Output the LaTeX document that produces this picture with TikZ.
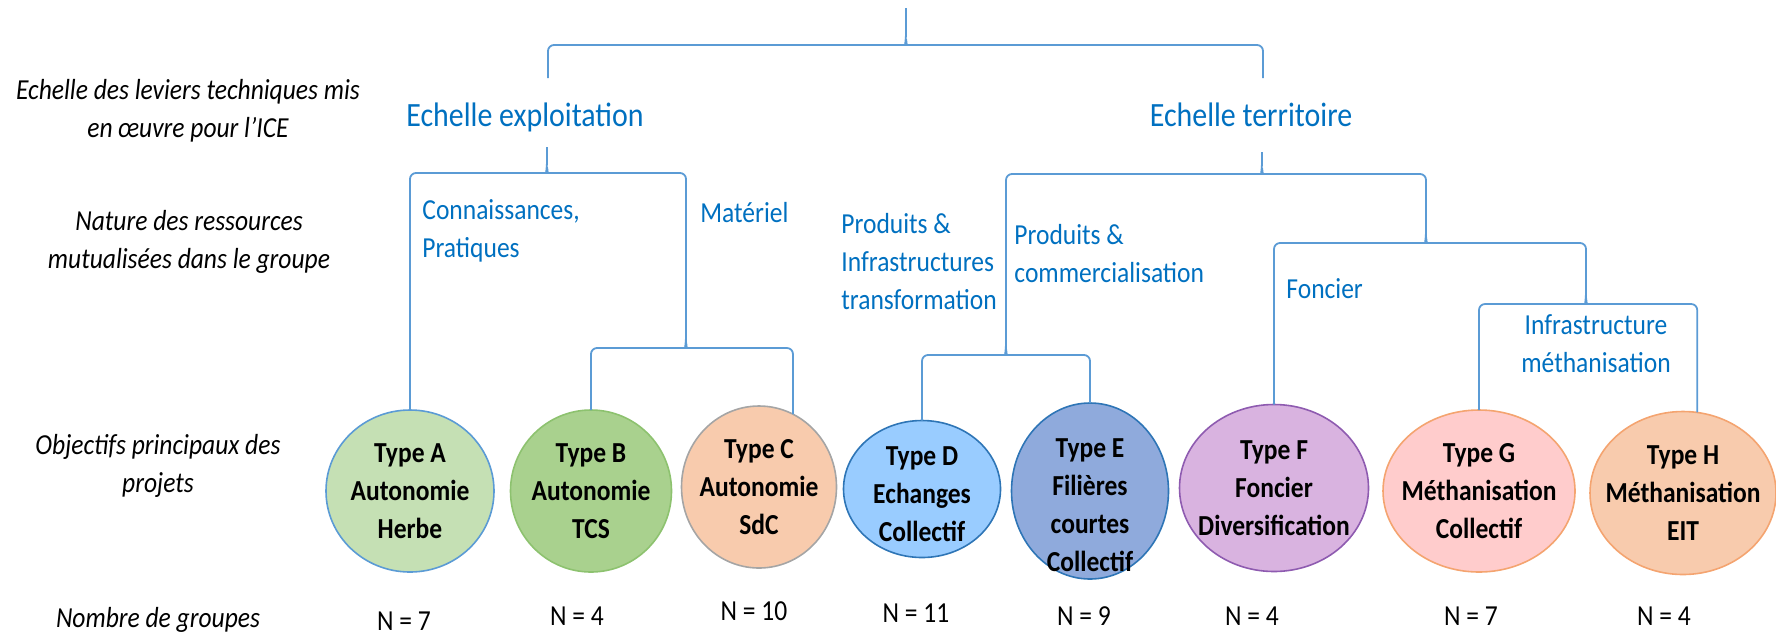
\documentclass[tikz,border=0pt]{standalone}
\usepackage{fontspec}
\setmainfont{Carlito}[FakeStretch=0.88]
\usepackage{tikz}
\usetikzlibrary{calc,shapes.geometric}

\definecolor{braceblue}{RGB}{91,155,213}
\definecolor{labelblue}{RGB}{0,112,192}
\definecolor{fillA}{HTML}{C5E0B4}\definecolor{lineA}{HTML}{5B9BD5}
\definecolor{fillB}{HTML}{A9D18E}\definecolor{lineB}{HTML}{8DC26F}
\definecolor{fillC}{HTML}{F8CBAD}\definecolor{lineC}{HTML}{A5A5A5}
\definecolor{fillD}{HTML}{99CCFF}\definecolor{lineD}{HTML}{2E75B6}
\definecolor{fillE}{HTML}{8FAADC}\definecolor{lineE}{HTML}{2E75B6}
\definecolor{fillF}{HTML}{D9B3E0}\definecolor{lineF}{HTML}{8E5BB0}
\definecolor{fillG}{HTML}{FFCCCC}\definecolor{lineG}{HTML}{F4A470}
\definecolor{fillH}{HTML}{F8CBAD}\definecolor{lineH}{HTML}{F4A470}

% brace opening downwards: left foot, right foot, point on the bar under the tip, tip
\newcommand{\upbrace}[4]{%
  \draw[brc] (#1) |- ($(#3)+(-5,0)$) .. controls ($(#3)+(-1,0)$) .. ($(#3)+(0,-6)$) -- (#4);
  \draw[brc] (#2) |- ($(#3)+(5,0)$) .. controls ($(#3)+(1,0)$) .. ($(#3)+(0,-6)$);
}

\begin{document}
\begin{tikzpicture}[x=0.5pt, y=-0.5pt,
  brc/.style={draw=braceblue, line width=0.9pt, rounded corners=3pt},
  typ/.style={ellipse, line width=0.8pt, inner sep=0pt, outer sep=0pt},
  typtxt/.style={align=center, inner sep=0pt, font=\fontsize{14.5}{19}\selectfont\bfseries},
  lvl/.style={align=center, inner sep=0pt, font=\fontsize{14.5}{19}\selectfont\itshape},
  res/.style={align=left, inner sep=0pt, anchor=west, text=labelblue, font=\fontsize{14.5}{19}\selectfont},
  scl/.style={inner sep=0pt, anchor=base, text=labelblue, font=\fontsize{17}{21}\selectfont},
  cnt/.style={inner sep=0pt, anchor=base, font=\fontsize{14.5}{19}\selectfont}]
\useasboundingbox (0,0) rectangle (1776,634);

\node[lvl] (l1) at (188,111) {Echelle des leviers techniques mis\\en œuvre pour l’ICE};
\node[lvl] (l2) at (189,242) {Nature des ressources\\mutualisées dans le groupe};
\node[lvl] (l3) at (158,466) {Objectifs principaux des\\projets};
\node[lvl, anchor=base] (l4) at (158,627) {Nombre de groupes};

\node[scl] (exp) at (525,126) {Echelle exploitation};
\node[scl] (ter) at (1251,126) {Echelle territoire};

\node[res] (conn) at (422,231) {Connaissances,\\Pratiques};
\node[res, anchor=base west] (mat) at (700,222) {Matériel};
\node[res] (pinf) at (841,262) {Produits \&\\Infrastructures\\transformation};
\node[res] (pcom) at (1014,254) {Produits \&\\commercialisation};
\node[res, anchor=base west] (fon) at (1286,298) {Foncier};
\node[res, align=center, anchor=center] (meth) at (1596,344) {Infrastructure\\méthanisation};

\node[typ, fill=fillA, draw=lineA, minimum width=84pt, minimum height=81pt] (tA) at (410,491) {};
\node[typ, fill=fillB, draw=lineB, minimum width=80.5pt, minimum height=81pt] (tB) at (591,491) {};
\node[typ, fill=fillC, draw=lineC, minimum width=77.5pt, minimum height=81pt] (tC) at (759,487) {};
\node[typ, fill=fillD, draw=lineD, minimum width=78.5pt, minimum height=68.5pt] (tD) at (922,489) {};
\node[typ, fill=fillE, draw=lineE, minimum width=78.5pt, minimum height=88pt] (tE) at (1090,491) {};
\node[typ, fill=fillF, draw=lineF, minimum width=94.5pt, minimum height=83.5pt] (tF) at (1274,488) {};
\node[typ, fill=fillG, draw=lineG, minimum width=96pt, minimum height=81pt] (tG) at (1479,491) {};
\node[typ, fill=fillH, draw=lineH, minimum width=93pt, minimum height=81.5pt] (tH) at (1683,493) {};

\node[typtxt] (xA) at (tA) {Type A\\Autonomie\\Herbe};
\node[typtxt] (xB) at (tB) {Type B\\Autonomie\\TCS};
\node[typtxt] (xC) at (tC) {Type C\\Autonomie\\SdC};
\node[typtxt] (xD) at (922,494) {Type D\\Echanges\\Collectif};
\node[typtxt] (xE) at (1090,505) {Type E\\Filières\\courtes\\Collectif};
\node[typtxt] (xF) at (tF) {Type F\\Foncier\\Diversification};
\node[typtxt] (xG) at (tG) {Type G\\Méthanisation\\Collectif};
\node[typtxt] (xH) at (tH) {Type H\\Méthanisation\\EIT};

\node[cnt] (nA) at (404,630) {N = 7};
\node[cnt] (nB) at (577,625) {N = 4};
\node[cnt] (nC) at (754,620) {N = 10};
\node[cnt] (nD) at (916,622) {N = 11};
\node[cnt] (nE) at (1084,625) {N = 9};
\node[cnt] (nF) at (1252,625) {N = 4};
\node[cnt] (nG) at (1471,625) {N = 7};
\node[cnt] (nH) at (1664,625) {N = 4};

\coordinate (topL) at (548,78);
\coordinate (topR) at (1263,78);
\coordinate (topMid) at (906,45);
\coordinate (topTip) at (906,8);
\coordinate (expMid) at (547,173);
\coordinate (expTip) at (547,147);
\coordinate (bcMid) at (686,348);
\coordinate (bcTip) at (686,342);
\coordinate (terMid) at (1262,174);
\coordinate (terTip) at (1262,152);
\coordinate (deMid) at (1006,355);
\coordinate (deTip) at (1006,349);
\coordinate (fghMid) at (1426,243);
\coordinate (fghTip) at (1426,237);
\coordinate (ghMid) at (1586,304);
\coordinate (ghTip) at (1586,298);

\upbrace{topL}{topR}{topMid}{topTip}
\upbrace{tA.north}{bcTip}{expMid}{expTip}
\upbrace{tB.north}{tC.65}{bcMid}{bcTip}
\upbrace{deTip}{fghTip}{terMid}{terTip}
\upbrace{tD.north}{tE.north}{deMid}{deTip}
\upbrace{tF.north}{ghTip}{fghMid}{fghTip}
\upbrace{tG.north}{tH.80}{ghMid}{ghTip}
\end{tikzpicture}
\end{document}
